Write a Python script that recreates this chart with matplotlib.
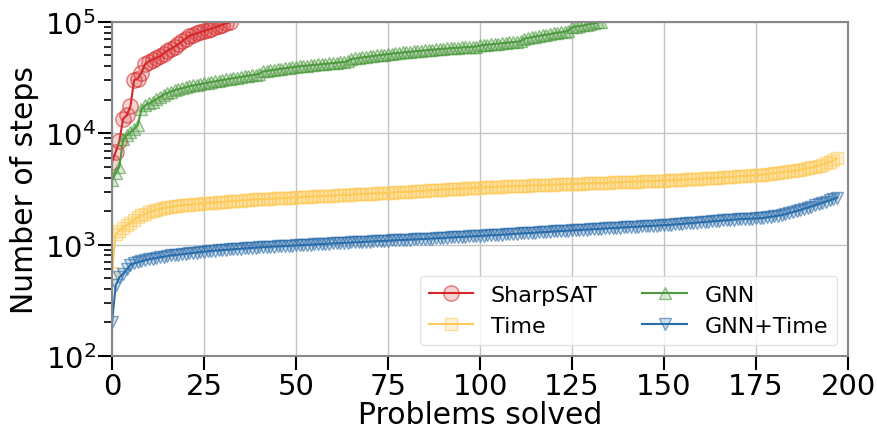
import matplotlib
matplotlib.use("Agg")
import matplotlib.pyplot as plt
from matplotlib.colors import to_rgba

# Sorted number of steps needed per solved problem (cactus plot)
sharpsat = [5500, 6800, 8500, 13500, 14500, 17500, 30000, 31000, 35000, 42000,
            44000, 46000, 47500, 49000, 52000, 55000, 57500, 60000, 63000, 67000,
            71000, 75000, 77000, 79000, 81000, 83000, 85000, 87000, 89500, 92000,
            94500, 97000, 99500]

time_steps = [560, 1250, 1340, 1420, 1490, 1580, 1660, 1760, 1830, 1900,
              1960, 2010, 2060, 2100, 2130, 2160, 2190, 2210, 2230, 2250,
              2270, 2290, 2300, 2320, 2340, 2360, 2370, 2380, 2390, 2400,
              2410, 2430, 2450, 2460, 2480, 2490, 2510, 2520, 2540, 2550,
              2560, 2570, 2580, 2590, 2600, 2610, 2620, 2630, 2640, 2650,
              2660, 2670, 2680, 2690, 2700, 2710, 2720, 2730, 2740, 2750,
              2760, 2770, 2780, 2790, 2800, 2810, 2830, 2840, 2850, 2860,
              2870, 2880, 2890, 2900, 2910, 2920, 2940, 2950, 2970, 2980,
              2990, 3000, 3010, 3030, 3040, 3050, 3070, 3080, 3090, 3110,
              3120, 3130, 3150, 3160, 3180, 3190, 3200, 3220, 3230, 3250,
              3260, 3270, 3280, 3290, 3300, 3310, 3320, 3330, 3340, 3350,
              3360, 3370, 3380, 3390, 3400, 3410, 3420, 3430, 3440, 3450,
              3460, 3470, 3480, 3490, 3500, 3510, 3520, 3530, 3540, 3550,
              3560, 3570, 3580, 3590, 3600, 3610, 3620, 3630, 3640, 3650,
              3660, 3670, 3680, 3690, 3700, 3710, 3720, 3730, 3740, 3750,
              3760, 3780, 3790, 3810, 3820, 3840, 3850, 3870, 3880, 3900,
              3910, 3930, 3950, 3960, 3980, 4000, 4020, 4040, 4060, 4080,
              4100, 4120, 4140, 4160, 4180, 4200, 4230, 4260, 4300, 4340,
              4380, 4420, 4460, 4500, 4550, 4600, 4660, 4720, 4790, 4860,
              4940, 5030, 5130, 5240, 5360, 5500, 5700, 5950]

gnn = [3800, 4400, 5000, 8800, 9600, 10200, 10900, 11800, 16500, 17800,
       18600, 19200, 20200, 21200, 22200, 23000, 23700, 24300, 24900, 25400,
       25900, 26400, 26900, 27300, 27700, 28100, 28500, 28900, 29300, 29700,
       30100, 30500, 30900, 31300, 31700, 32100, 32500, 32900, 33300, 33700,
       34100, 36000, 36400, 36800, 37200, 37600, 38000, 38400, 38800, 39200,
       39600, 40000, 40300, 40600, 40900, 41200, 41500, 41800, 42100, 42400,
       42700, 43000, 43400, 43800, 44200, 46500, 47000, 47500, 48000, 48500,
       49000, 49500, 50000, 50500, 51000, 51500, 52000, 52400, 52800, 53200,
       53600, 54000, 54400, 54800, 55200, 55600, 56000, 56400, 56800, 57200,
       57500, 57800, 58100, 58400, 58700, 59000, 59300, 59600, 59900, 60200,
       61500, 62000, 62500, 63000, 63500, 64000, 64500, 65000, 65500, 66000,
       66500, 67000, 71000, 72000, 73000, 74000, 75000, 76000, 77000, 78000,
       79000, 80000, 81000, 82000, 83000, 90000, 91000, 92000, 93000, 94500,
       96000, 97500, 99000, 100500]

gnn_time = [200, 430, 510, 545, 600, 660, 680, 695, 710, 725,
            740, 750, 760, 770, 780, 790, 800, 805, 815, 820,
            830, 835, 845, 850, 860, 865, 872, 880, 885, 890,
            895, 900, 905, 910, 915, 920, 925, 930, 935, 940,
            945, 950, 955, 958, 962, 966, 970, 974, 978, 982,
            986, 990, 994, 998, 1002, 1006, 1010, 1014, 1018, 1022,
            1026, 1030, 1034, 1038, 1042, 1046, 1050, 1054, 1058, 1062,
            1066, 1070, 1074, 1078, 1082, 1086, 1090, 1094, 1098, 1102,
            1106, 1110, 1114, 1118, 1122, 1126, 1130, 1135, 1140, 1145,
            1150, 1155, 1160, 1165, 1170, 1175, 1180, 1185, 1190, 1195,
            1200, 1205, 1210, 1215, 1220, 1225, 1230, 1236, 1242, 1248,
            1254, 1260, 1266, 1272, 1278, 1284, 1290, 1296, 1302, 1308,
            1314, 1320, 1326, 1332, 1338, 1344, 1350, 1356, 1362, 1368,
            1374, 1380, 1386, 1392, 1398, 1404, 1410, 1416, 1422, 1428,
            1434, 1440, 1446, 1452, 1458, 1464, 1470, 1476, 1482, 1488,
            1494, 1500, 1510, 1520, 1530, 1540, 1550, 1560, 1570, 1580,
            1590, 1600, 1610, 1620, 1630, 1640, 1650, 1660, 1670, 1680,
            1690, 1700, 1705, 1710, 1715, 1720, 1730, 1740, 1760, 1780,
            1800, 1820, 1850, 1880, 1920, 1960, 2000, 2050, 2100, 2150,
            2200, 2260, 2320, 2380, 2440, 2500, 2570, 2650]

series = [
    ("SharpSAT", sharpsat, "#d62728", "o", 11),
    ("Time", time_steps, "#fdcb5a", "s", 8),
    ("GNN", gnn, "#4d9a3f", "^", 8.5),
    ("GNN+Time", gnn_time, "#2a6dab", "v", 8.5),
]

fig = plt.figure(figsize=(8.78, 4.31), dpi=100)
ax = fig.add_axes([0.1276, 0.1717, 0.8383, 0.775])

for label, vals, col, mk, ms in series:
    ax.plot(range(len(vals)), vals, color=col, linewidth=1.5, marker=mk,
            markersize=ms, markerfacecolor=to_rgba(col, 0.2),
            markeredgecolor=to_rgba(col, 0.6), markeredgewidth=1.0,
            label=label)

ax.set_yscale("log")
ax.set_ylim(1e2, 1e5)
ax.set_xlim(0, 200)
ax.set_xticks([0, 25, 50, 75, 100, 125, 150, 175, 200])
ax.grid(True, which="major", color="#c4c4c4", linewidth=1.0)
ax.set_axisbelow(True)

ax.tick_params(axis="both", which="major", labelsize=21, length=10, width=1.5,
               color="black", pad=1.5)
ax.tick_params(axis="y", which="minor", length=6, width=1.2, color="black")
for sp in ax.spines.values():
    sp.set_color("#888888")
    sp.set_linewidth(1.5)

ax.set_xlabel("Problems solved", fontsize=21.5, labelpad=0)
ax.set_ylabel("Number of steps", fontsize=21.5, labelpad=4)

ax.legend(loc="lower right", ncol=2, fontsize=16, framealpha=0.8,
          edgecolor="#dddddd", columnspacing=2.0)

fig.savefig("out.png", dpi=100)
